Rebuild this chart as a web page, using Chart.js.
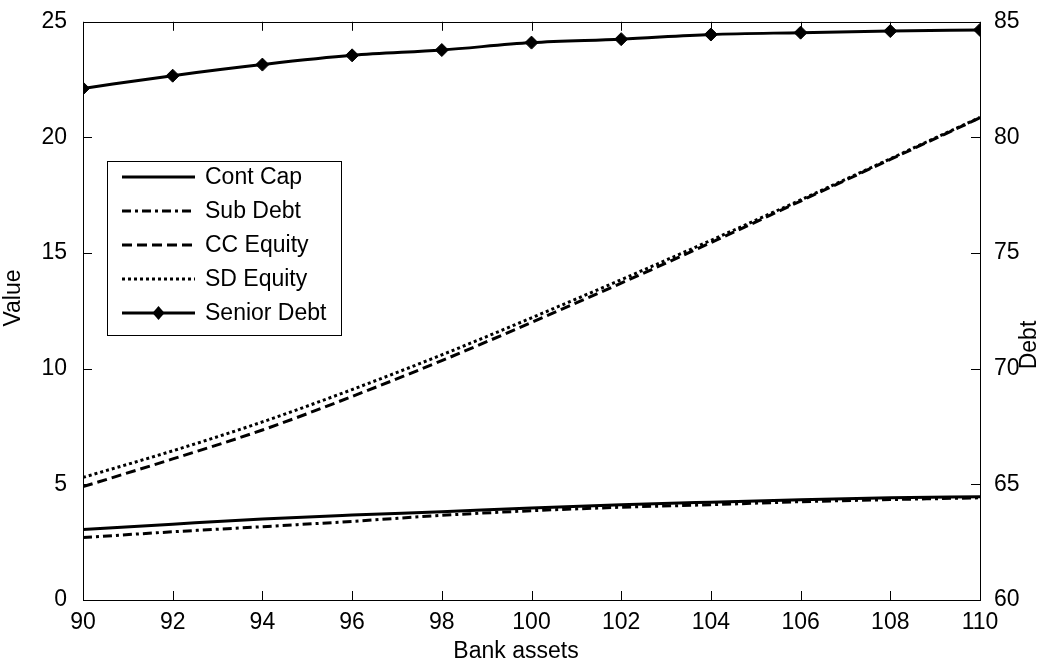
<!DOCTYPE html>
<html>
<head>
<meta charset="utf-8">
<script src="https://cdn.jsdelivr.net/npm/chart.js@4/dist/chart.umd.min.js"></script>
<style>
  html, body { margin: 0; padding: 0; background: #fff; }
  #wrap { width: 1044px; height: 666px; }
</style>
</head>
<body>
<div id="wrap"><canvas id="c" width="1044" height="666"></canvas></div>
<script>
// Bank asset levels (x axis)
const bankAssets = [90, 92, 94, 96, 98, 100, 102, 104, 106, 108, 110];

// Values on the left axis
const contCap    = [3.05, 3.28, 3.50, 3.67, 3.82, 3.98, 4.12, 4.23, 4.33, 4.42, 4.46];
const subDebt    = [2.70, 2.95, 3.17, 3.40, 3.66, 3.86, 4.01, 4.12, 4.25, 4.34, 4.42];
const ccEquity   = [4.90, 6.10, 7.35, 8.80, 10.35, 12.00, 13.70, 15.45, 17.25, 19.05, 20.85];
const sdEquity   = [5.30, 6.45, 7.70, 9.10, 10.60, 12.20, 13.85, 15.55, 17.30, 19.08, 20.87];

// Senior debt on the right axis
const seniorDebt = [82.12, 82.67, 83.15, 83.55, 83.78, 84.10, 84.25, 84.45, 84.53, 84.60, 84.65];

const FONT = '"Liberation Sans", Arial, Helvetica, sans-serif';
const FS = 23;

const pts = (ys) => bankAssets.map((x, i) => ({ x, y: ys[i] }));

const lineBase = {
  borderColor: '#000',
  backgroundColor: '#000',
  borderWidth: 3,
  pointRadius: 0,
  fill: false,
  cubicInterpolationMode: 'monotone'
};

const datasets = [
  Object.assign({}, lineBase, { label: 'Cont Cap',   data: pts(contCap),   yAxisID: 'y' }),
  Object.assign({}, lineBase, { label: 'Sub Debt',   data: pts(subDebt),   yAxisID: 'y', borderDash: [9, 4, 3, 4] }),
  Object.assign({}, lineBase, { label: 'CC Equity',  data: pts(ccEquity),  yAxisID: 'y', borderDash: [10, 5] }),
  Object.assign({}, lineBase, { label: 'SD Equity',  data: pts(sdEquity),  yAxisID: 'y', borderDash: [3, 3] }),
  Object.assign({}, lineBase, { label: 'Senior Debt', data: pts(seniorDebt), yAxisID: 'y2',
    pointRadius: 6.5, pointHoverRadius: 6.5, pointStyle: 'rectRot',
    pointBackgroundColor: '#000', pointBorderColor: '#000', pointBorderWidth: 1 })
];

// Frame, inward tick marks, axis titles and legend box
const framePlugin = {
  id: 'frame',
  afterDatasetsDraw(chart) {
    const ctx = chart.ctx;
    const a = chart.chartArea;
    const sx = chart.scales.x, sy = chart.scales.y, sy2 = chart.scales.y2;
    const TL = 9;
    ctx.save();
    ctx.strokeStyle = '#000';
    ctx.lineWidth = 1;
    ctx.strokeRect(Math.round(a.left) + 0.5, Math.round(a.top) + 0.5,
                   Math.round(a.right - a.left), Math.round(a.bottom - a.top));
    ctx.beginPath();
    sx.ticks.forEach(t => {
      const px = Math.round(sx.getPixelForValue(t.value)) + 0.5;
      ctx.moveTo(px, a.bottom); ctx.lineTo(px, a.bottom - TL);
      ctx.moveTo(px, a.top);    ctx.lineTo(px, a.top + TL);
    });
    sy.ticks.forEach(t => {
      const py = Math.round(sy.getPixelForValue(t.value)) + 0.5;
      ctx.moveTo(a.left, py); ctx.lineTo(a.left + TL, py);
    });
    sy2.ticks.forEach(t => {
      const py = Math.round(sy2.getPixelForValue(t.value)) + 0.5;
      ctx.moveTo(a.right, py); ctx.lineTo(a.right - TL, py);
    });
    ctx.stroke();

    // axis titles
    ctx.fillStyle = '#000';
    ctx.font = FS + 'px ' + FONT;
    ctx.textAlign = 'center';
    ctx.textBaseline = 'middle';
    ctx.fillText('Bank assets', 516, 652);
    ctx.save();
    ctx.translate(14, 298);
    ctx.rotate(-Math.PI / 2);
    ctx.fillText('Value', 0, 0);
    ctx.restore();
    ctx.save();
    ctx.translate(1030, 345);
    ctx.rotate(-Math.PI / 2);
    ctx.fillText('Debt', 0, 0);
    ctx.restore();

    // legend
    const bx = 107, by = 161, bw = 234, bh = 174;
    ctx.fillStyle = '#fff';
    ctx.fillRect(bx, by, bw, bh);
    ctx.strokeRect(bx + 0.5, by + 0.5, bw, bh);
    chart.data.datasets.forEach((ds, i) => {
      const cy = 177 + i * 34;
      ctx.beginPath();
      ctx.setLineDash(ds.borderDash || []);
      ctx.lineWidth = ds.borderWidth;
      ctx.strokeStyle = '#000';
      ctx.moveTo(122, cy); ctx.lineTo(195, cy);
      ctx.stroke();
      ctx.setLineDash([]);
      if (ds.pointStyle === 'rectRot') {
        ctx.beginPath();
        ctx.moveTo(158.5, cy - 7); ctx.lineTo(164.5, cy); ctx.lineTo(158.5, cy + 7); ctx.lineTo(152.5, cy);
        ctx.closePath();
        ctx.fillStyle = '#000';
        ctx.fill();
      }
      ctx.fillStyle = '#000';
      ctx.textAlign = 'left';
      ctx.fillText(ds.label, 205, cy + 1);
    });
    ctx.restore();
  }
};

new Chart(document.getElementById('c'), {
  type: 'line',
  data: { datasets },
  plugins: [framePlugin],
  options: {
    responsive: false,
    devicePixelRatio: 1,
    animation: false,
    layout: { padding: { top: 20, left: 0, right: 0, bottom: 0 } },
    plugins: { legend: { display: false }, tooltip: { enabled: false } },
    scales: {
      x: {
        type: 'linear', position: 'bottom', min: 90, max: 110,
        grid: { display: false }, border: { display: false },
        ticks: { stepSize: 2, padding: 1, color: '#000', font: { family: FONT, size: FS }, maxRotation: 0 },
        afterFit(s) { s.height = 66; }
      },
      y: {
        type: 'linear', position: 'left', min: 0, max: 25,
        grid: { display: false }, border: { display: false },
        ticks: { stepSize: 5, padding: 8, color: '#000', font: { family: FONT, size: FS } },
        afterFit(s) { s.width = 83; }
      },
      y2: {
        type: 'linear', position: 'right', min: 60, max: 85,
        grid: { display: false }, border: { display: false },
        ticks: { stepSize: 5, padding: 6, color: '#000', font: { family: FONT, size: FS } },
        afterFit(s) { s.width = 64; }
      }
    }
  }
});
</script>
</body>
</html>
